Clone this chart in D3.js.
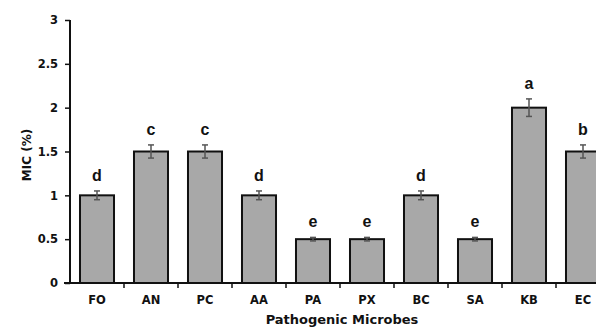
<!DOCTYPE html>
<html>
<head>
<meta charset="utf-8">
<script src="https://cdn.jsdelivr.net/npm/d3@7"></script>
<style>
  body { margin: 0; background: #fff; }
  text { font-family: "DejaVu Sans", sans-serif; font-weight: bold; }
</style>
</head>
<body>
<svg width="596" height="329"></svg>
<script>
const categories = ['FO', 'AN', 'PC', 'AA', 'PA', 'PX', 'BC', 'SA', 'KB', 'EC'];
const values = [1, 1.5, 1.5, 1, 0.5, 0.5, 1, 0.5, 2, 1.5];
const errors = [0.05, 0.075, 0.075, 0.05, 0.02, 0.02, 0.05, 0.02, 0.1, 0.075];
const letters = ['d', 'c', 'c', 'd', 'e', 'e', 'd', 'e', 'a', 'b'];
const yTicks = [0, 0.5, 1, 1.5, 2, 2.5, 3];

const svg = d3.select('svg');

const x = d3.scaleBand().domain(categories).range([70, 610]).paddingInner(0.37).paddingOuter(0.185);
const y = d3.scaleLinear().domain([0, 3]).range([283, 20]);

// bars
svg.append('g')
  .selectAll('rect')
  .data(categories)
  .join('rect')
  .attr('x', d => x(d))
  .attr('y', (d, i) => y(values[i]))
  .attr('width', x.bandwidth())
  .attr('height', (d, i) => y(0) - y(values[i]))
  .attr('fill', '#a8a8a8')
  .attr('stroke', '#111')
  .attr('stroke-width', 2);

// error bars
const eb = svg.append('g').attr('stroke', '#555').attr('stroke-width', 1.5);
categories.forEach((c, i) => {
  const cx = x(c) + x.bandwidth() / 2;
  const y1 = y(values[i] + errors[i]);
  const y2 = y(values[i] - errors[i]);
  eb.append('line').attr('x1', cx).attr('x2', cx).attr('y1', y1).attr('y2', y2);
  eb.append('line').attr('x1', cx - 3).attr('x2', cx + 3).attr('y1', y1).attr('y2', y1);
  eb.append('line').attr('x1', cx - 3).attr('x2', cx + 3).attr('y1', y2).attr('y2', y2);
});

// letters
svg.append('g')
  .selectAll('text')
  .data(categories)
  .join('text')
  .attr('x', d => x(d) + x.bandwidth() / 2)
  .attr('y', (d, i) => y(values[i] + errors[i]) - 10)
  .attr('text-anchor', 'middle')
  .style('font-family', '"Liberation Sans", Arial, sans-serif')
  .style('font-weight', 'bold')
  .attr('font-size', 16)
  .attr('fill', '#111')
  .text((d, i) => letters[i]);

// y axis
const yAxis = svg.append('g')
  .attr('transform', 'translate(70,0)')
  .call(d3.axisLeft(y).tickValues(yTicks).tickSize(5).tickFormat(d3.format('')));
yAxis.select('.domain').attr('stroke', '#111').attr('stroke-width', 2).attr('d', `M0,${y(3)}V${y(0)}`);
yAxis.selectAll('.tick line').attr('stroke', '#111').attr('stroke-width', 1.5);
yAxis.selectAll('.tick text').attr('font-size', 11.5).attr('fill', '#111').attr('x', -12);

// x axis
const xAxis = svg.append('g')
  .attr('transform', `translate(0,${y(0)})`)
  .call(d3.axisBottom(x).tickSize(0).tickPadding(13));
xAxis.select('.domain').attr('stroke', '#111').attr('stroke-width', 2).attr('d', 'M64,0H610');
xAxis.selectAll('.tick text').attr('font-size', 11.5).attr('fill', '#111');
// category separator ticks
xAxis.append('g')
  .selectAll('line')
  .data(categories)
  .join('line')
  .attr('x1', d => x(d) + x.bandwidth() + x.step() * x.paddingInner() / 2)
  .attr('x2', d => x(d) + x.bandwidth() + x.step() * x.paddingInner() / 2)
  .attr('y1', 0)
  .attr('y2', 5)
  .attr('stroke', '#111')
  .attr('stroke-width', 1.5);

// axis titles
svg.append('text')
  .attr('transform', 'translate(31,155) rotate(-90)')
  .attr('text-anchor', 'middle')
  .attr('font-size', 12)
  .attr('fill', '#111')
  .text('MIC (%)');

svg.append('text')
  .attr('x', 342)
  .attr('y', 324)
  .attr('text-anchor', 'middle')
  .attr('font-size', 13)
  .attr('fill', '#111')
  .text('Pathogenic Microbes');
</script>
</body>
</html>
